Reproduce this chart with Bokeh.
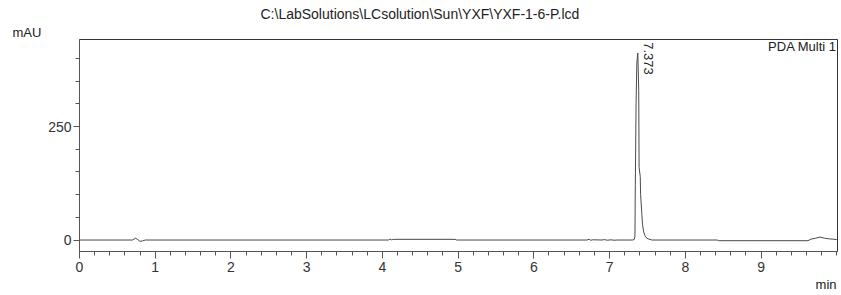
import math
import numpy as np
from bokeh.plotting import figure
from bokeh.models import Range1d, Label, FixedTicker, Title
from bokeh.embed import file_html
from bokeh.resources import INLINE

# ---- data ----
time_min = [0.00, 0.70, 0.74, 0.77, 0.80, 0.83, 0.87,
            4.08, 4.10, 4.12, 4.15, 4.96, 4.98,
            6.70, 6.73, 6.75, 6.78, 6.90, 6.93, 6.97, 7.02, 7.06, 7.10,
            7.30, 7.325, 7.335, 7.34, 7.35, 7.36, 7.373, 7.385, 7.39,
            7.405, 7.41, 7.425, 7.435, 7.45, 7.467, 7.49, 7.52, 7.56,
            8.42, 8.44, 9.62, 9.66, 9.72, 9.78, 9.84, 9.90, 9.95, 10.00]
signal_mau = [0, 0, 4, 1, -3, -2, 0,
              0, 2, 0.5, 1.5, 1.5, 0,
              0, 1.5, -0.5, 0.5, 0, 1, -0.5, 0.5, -0.5, 0,
              0, 1, 8, 120, 300, 390, 412, 330, 160,
              140, 100, 60, 35, 18, 10, 4, 2, 0,
              0, -1.5, -1.5, 2, 4, 6.5, 4, 2.5, 2, 1]

x_major_ticks = [0, 1, 2, 3, 4, 5, 6, 7, 8, 9]
y_major_ticks = [0, 250]
peak_rt = 7.373
peak_label = "7.373"
title_text = "C:\\LabSolutions\\LCsolution\\Sun\\YXF\\YXF-1-6-P.lcd"
channel_text = "PDA Multi 1"
y_unit = "mAU"
x_unit = "min"

FONT = "Liberation Sans"
TXT = "#222222"

p = figure(width=841, height=295, output_backend="svg", toolbar_location=None,
           title=None,
           x_range=Range1d(0, 10.01), y_range=Range1d(-25.3, 442),
           min_border_left=79, min_border_right=4, min_border_top=39,
           min_border_bottom=44, background_fill_color="white",
           border_fill_color="white")

p.xgrid.visible = False
p.ygrid.visible = False
p.outline_line_color = "#333333"
p.outline_line_width = 1

p.line(time_min, signal_mau, line_color="#4a4a4a", line_width=1)

p.xaxis.ticker = FixedTicker(ticks=x_major_ticks,
                             minor_ticks=list(np.round(np.arange(0, 10.01, 0.2), 2)))
p.yaxis.ticker = FixedTicker(ticks=y_major_ticks,
                             minor_ticks=list(range(0, 450, 50)))

for ax in (p.xaxis[0], p.yaxis[0]):
    ax.axis_line_color = "#555555"
    ax.major_tick_line_color = "#555555"
    ax.minor_tick_line_color = "#555555"
    ax.major_tick_in = 0
    ax.minor_tick_in = 0
    ax.major_label_text_font = FONT
    ax.major_label_text_font_size = "14px"
    ax.major_label_text_color = "#333333"

p.xaxis.major_tick_out = 7
p.xaxis.minor_tick_out = 4
p.xaxis.major_label_standoff = 3
p.yaxis.major_tick_out = 6
p.yaxis.minor_tick_out = 4
p.yaxis.major_label_standoff = 2

# outer texts as titles (side panels)
t_unit_y = Title(text=y_unit, align="left", offset=-67, standoff=0,
                 text_font=FONT, text_font_size="13px", text_font_style="normal",
                 text_color=TXT)
t_main = Title(text=title_text, align="left", offset=181, standoff=2,
               text_font=FONT, text_font_size="14px", text_font_style="normal",
               text_color=TXT)
p.add_layout(t_unit_y, "above")
p.add_layout(t_main, "above")

t_unit_x = Title(text=x_unit, align="right", offset=1, standoff=0,
                 text_font=FONT, text_font_size="13px", text_font_style="normal",
                 text_color=TXT)
p.add_layout(t_unit_x, "below")

def add_label(x, y, text, size="13px", align="left", baseline="middle", angle=0.0):
    p.add_layout(Label(x=x, y=y, text=text, text_font=FONT, text_font_size=size,
                       text_color=TXT, text_align=align,
                       text_baseline=baseline, angle=angle))

add_label(10.0, 425.8, channel_text, align="right")
add_label(peak_rt + 0.14, 436, peak_label, align="left", baseline="alphabetic",
          angle=-math.pi / 2)

open("out.html", "w").write(file_html(p, INLINE))
